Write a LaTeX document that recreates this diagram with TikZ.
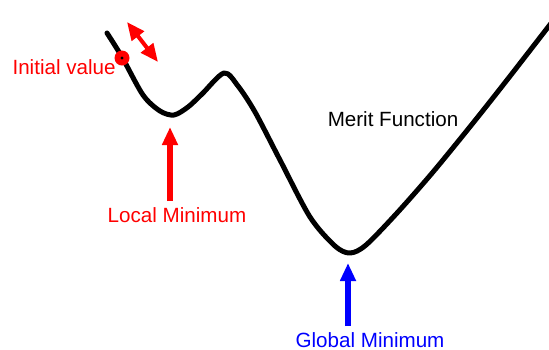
\documentclass[tikz,border=0pt]{standalone}
\usepackage{fontspec}
\setmainfont{Liberation Sans}
\usepackage{tikz}
\usetikzlibrary{arrows.meta,positioning}
\usepackage{xcolor}

\begin{document}
\begin{tikzpicture}[
    x=0.5pt, y=-0.5pt,
    lbl/.style={font=\fontsize{10.3}{12}\selectfont, inner sep=0pt},
    merit/.style={line width=2.5pt, black, line join=round, line cap=round},
    arr/.style={-{Triangle[length=9pt,width=7.5pt]}, line width=2.6pt},
    darr/.style={{Triangle[length=9pt,width=7.5pt]}-{Triangle[length=9pt,width=7.5pt]},
                 line width=2pt, red}
  ]
  \useasboundingbox (0,0) rectangle (549,349);
  % Merit function curve
  \draw[merit] plot[smooth, tension=0.5] coordinates {
    (107,33) (122,57) (143,95) (160,111) (174,115) (188,107)
    (202,94) (224,73) (238,86) (255,112) (280,160) (310,217)
    (335,246) (350,253) (366,245) (397,213) (433,172) (473,123)
    (507,80) (552,22)};
  % Points on the curve
  \coordinate (lmin) at (170,127);
  \coordinate (gmin) at (348,263);
  \coordinate (upl) at (127,22);
  \coordinate (dnr) at (158,62);
  % Initial value marker
  \node[circle, fill=red, minimum size=7.5pt, inner sep=0pt] (init) at (122,58) {};
  \fill[black] (init.center) circle (0.8pt);
  \node[lbl, text=red, anchor=east] (initlbl) at (116,67) {Initial value};
  \draw[darr] (upl) -- (dnr);
  % Minima
  \node[lbl, text=red] (loclbl) at (177,215) {Local Minimum};
  \draw[arr, red] (loclbl.north -| lmin) ++(0,-6) coordinate (ltail) (ltail) -- (lmin);
  \node[lbl, text=blue] (glolbl) at (370,340) {Global Minimum};
  \draw[arr, blue] (glolbl.north -| gmin) ++(0,-6) coordinate (gtail) (gtail) -- (gmin);
  % Curve label
  \node[lbl] (meritlbl) at (393,119) {Merit Function};
\end{tikzpicture}
\end{document}
